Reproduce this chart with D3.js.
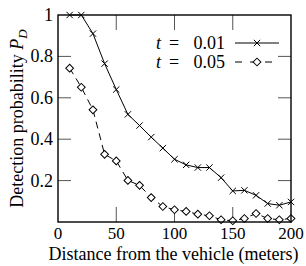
<!DOCTYPE html>
<html>
<head>
<meta charset="utf-8">
<script src="https://cdn.jsdelivr.net/npm/d3@7"></script>
<style>
  body { margin: 0; background: #fff; }
  svg text { font-family: "Liberation Serif", "Times New Roman", serif; fill: #000; }
</style>
</head>
<body>
<svg id="chart" width="306" height="266"></svg>
<script>
// distances (meters) and detection probabilities
const distances = [10, 20, 30, 40, 50, 60, 70, 80, 90, 100, 110, 120, 130, 140, 150, 160, 170, 180, 190, 200];
const pd001 = [1.0, 1.0, 0.91, 0.765, 0.64, 0.52, 0.466, 0.41, 0.357, 0.303, 0.276, 0.263, 0.263, 0.214, 0.15, 0.153, 0.129, 0.089, 0.081, 0.097];
const pd005 = [0.743, 0.651, 0.542, 0.327, 0.295, 0.201, 0.177, 0.118, 0.075, 0.059, 0.051, 0.038, 0.030, 0.011, 0.006, 0.017, 0.041, 0.017, 0.011, 0.017];
const xTicks = [0, 50, 100, 150, 200];
const yTicks = [0.2, 0.4, 0.6, 0.8, 1];
const seriesLabels = ["0.01", "0.05"];

const margin = {top: 15, right: 15, bottom: 44, left: 58};
const svg = d3.select("#chart");
const width = 306 - margin.left - margin.right;
const height = 266 - margin.top - margin.bottom;

const xScale = d3.scaleLinear().domain([0, 200]).range([0, width]);
const yScale = d3.scaleLinear().domain([0, 1]).range([height, 0]);

const g = svg.append("g").attr("transform", `translate(${margin.left},${margin.top})`);

// inner ticks on all four sides (mirrored)
const xTickLen = 15, yTickLen = 13;
const tickStyle = sel => sel.attr("stroke", "#555").attr("stroke-width", 1);
g.selectAll(".xt-b").data(xTicks.slice(1, -1)).join("line")
  .attr("x1", d => xScale(d)).attr("x2", d => xScale(d))
  .attr("y1", height).attr("y2", height - xTickLen).call(tickStyle);
g.selectAll(".xt-t").data(xTicks.slice(1, -1)).join("line")
  .attr("x1", d => xScale(d)).attr("x2", d => xScale(d))
  .attr("y1", 0).attr("y2", xTickLen).call(tickStyle);
g.selectAll(".yt-l").data(yTicks.slice(0, -1)).join("line")
  .attr("x1", 0).attr("x2", yTickLen)
  .attr("y1", d => yScale(d)).attr("y2", d => yScale(d)).call(tickStyle);
g.selectAll(".yt-r").data(yTicks.slice(0, -1)).join("line")
  .attr("x1", width).attr("x2", width - yTickLen)
  .attr("y1", d => yScale(d)).attr("y2", d => yScale(d)).call(tickStyle);

// tick labels
g.selectAll(".xl").data(xTicks).join("text")
  .attr("x", d => xScale(d)).attr("y", height + 17)
  .attr("text-anchor", "middle").attr("font-size", 17)
  .text(d => d);
g.selectAll(".yl").data(yTicks).join("text")
  .attr("x", -5).attr("y", d => yScale(d) + 6)
  .attr("text-anchor", "end").attr("font-size", 18)
  .text(d => d3.format("~g")(d));

// axis titles
svg.append("text")
  .attr("x", margin.left + width / 2 - 1).attr("y", 260)
  .attr("text-anchor", "middle").attr("font-size", 18)
  .text("Distance from the vehicle (meters)");
const yTitle = svg.append("text")
  .attr("transform", `translate(23,${margin.top + height / 2}) rotate(-90)`)
  .attr("text-anchor", "middle").attr("font-size", 18);
yTitle.append("tspan").text("Detection probability ");
yTitle.append("tspan").attr("font-style", "italic").text("P");
yTitle.append("tspan").attr("font-style", "italic").attr("font-size", 13).attr("dy", 4).text("D");

// lines
const line = (ys) => d3.line().x((d, i) => xScale(d)).y((d, i) => yScale(ys[i]))(distances);
g.append("path").attr("d", line(pd001)).attr("fill", "none").attr("stroke", "#000").attr("stroke-width", 1);
g.append("path").attr("d", line(pd005)).attr("fill", "none").attr("stroke", "#000").attr("stroke-width", 1)
  .attr("stroke-dasharray", "7,5");

// markers
const cross = d3.symbol().type(d3.symbolX).size(28);
const diamond = d3.symbol().type(d3.symbolSquare).size(30);
g.selectAll(".m1").data(distances).join("path")
  .attr("d", cross)
  .attr("transform", (d, i) => `translate(${xScale(d)},${yScale(pd001[i])})`)
  .attr("fill", "none").attr("stroke", "#000").attr("stroke-width", 1);
g.selectAll(".m2").data(distances).join("path")
  .attr("d", diamond)
  .attr("transform", (d, i) => `translate(${xScale(d)},${yScale(pd005[i])}) rotate(45)`)
  .attr("fill", "#fff").attr("stroke", "#000").attr("stroke-width", 1);

// frame
g.append("rect").attr("x", 0).attr("y", 0).attr("width", width).attr("height", height)
  .attr("fill", "none").attr("stroke", "#000").attr("stroke-width", 1.4);

// legend
const legend = svg.append("g");
seriesLabels.forEach((lab, i) => {
  const yy = 43 + i * 19;
  const tx = legend.append("text").attr("font-size", 18).attr("y", yy + 6);
  tx.append("tspan").attr("x", 156).attr("font-style", "italic").text("t");
  tx.append("tspan").attr("x", 174).attr("text-anchor", "middle").text("=");
  tx.append("tspan").attr("x", 225).attr("text-anchor", "end").text(lab);
  const ln = legend.append("line").attr("x1", 235).attr("x2", 279).attr("y1", yy).attr("y2", yy)
    .attr("stroke", "#000").attr("stroke-width", 1);
  if (i === 1) ln.attr("stroke-dasharray", "7,8");
  legend.append("path")
    .attr("d", i === 0 ? cross : diamond)
    .attr("transform", `translate(257,${yy})` + (i === 1 ? " rotate(45)" : ""))
    .attr("fill", i === 0 ? "none" : "#fff").attr("stroke", "#000").attr("stroke-width", 1);
});
</script>
</body>
</html>
